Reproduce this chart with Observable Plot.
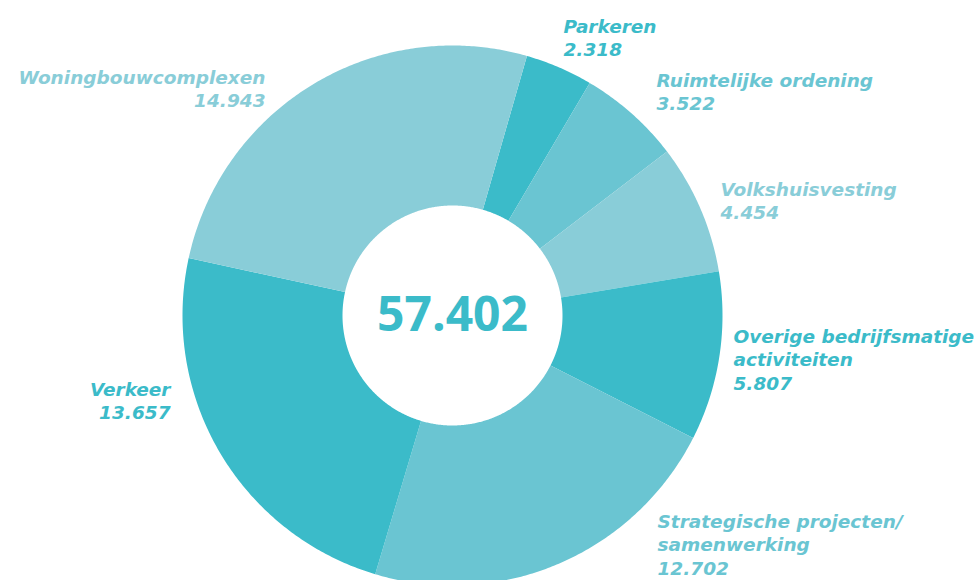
<!DOCTYPE html>
<html>
<head>
<meta charset="utf-8">
<script src="https://cdn.jsdelivr.net/npm/d3@7"></script>
<script src="https://cdn.jsdelivr.net/npm/@observablehq/plot@0.6"></script>
<style>
  html, body { margin: 0; padding: 0; background: #fff; }
  #chart { width: 976px; height: 580px; overflow: hidden; }
</style>
</head>
<body>
<div id="chart"></div>
<script>
// ---- data ----
const categories = ["Parkeren", "Ruimtelijke ordening", "Volkshuisvesting", "Overige bedrijfsmatige activiteiten", "Strategische projecten/ samenwerking", "Verkeer", "Woningbouwcomplexen"];
const values = [2318, 3522, 4454, 5807, 12702, 13657, 14943];
const labelLines = [["Parkeren"], ["Ruimtelijke ordening"], ["Volkshuisvesting"], ["Overige bedrijfsmatige", "activiteiten"], ["Strategische projecten/", "samenwerking"], ["Verkeer"], ["Woningbouwcomplexen"]];
const totalValue = 57402;

// ---- styles / layout ----
const colors = ["#3bbbc9", "#6ac5d2", "#89cdd8", "#3bbbc9", "#6ac5d2", "#3bbbc9", "#89cdd8"];
const W = 976, H = 580, CX = 452, CY = 315, R = 270, RIN = 110 / 270;
const startDeg = 16;
// label anchor (pixel x, baseline of first line) and alignment
const labelLayout = [
  {px: 563, py: 32, anchor: "start"},
  {px: 656, py: 86, anchor: "start"},
  {px: 720, py: 195, anchor: "start"},
  {px: 733, py: 342, anchor: "start"},
  {px: 657, py: 527, anchor: "start"},
  {px: 170, py: 395, anchor: "end"},
  {px: 265, py: 83, anchor: "end"}
];
const FS = 18.5, LH = 23.5, FONT = "DejaVu Sans";

const nl = d3.formatLocale({decimal: ",", thousands: ".", grouping: [3], currency: ["€", ""]});
const fmt = nl.format(",");

const pie = d3.pie().sort(null).value(d => d.value).startAngle(startDeg * Math.PI / 180).endAngle((startDeg + 360) * Math.PI / 180);
const slices = pie(categories.map((c, i) => ({cat: c, value: values[i]})));

// outline of each ring segment (geometry only)
const outline = [];
slices.forEach(s => {
  const n = Math.max(4, Math.ceil((s.endAngle - s.startAngle) / (Math.PI / 360)));
  for (let k = 0; k <= n; k++) {
    const a = s.startAngle + (s.endAngle - s.startAngle) * k / n;
    outline.push({cat: s.data.cat, x: Math.sin(a), y: Math.cos(a)});
  }
  for (let k = n; k >= 0; k--) {
    const a = s.startAngle + (s.endAngle - s.startAngle) * k / n;
    outline.push({cat: s.data.cat, x: RIN * Math.sin(a), y: RIN * Math.cos(a)});
  }
});

// label rows
const labelRows = [];
categories.forEach((c, i) => {
  const L = labelLayout[i];
  const lines = [...labelLines[i], fmt(values[i])];
  lines.forEach((t, j) => {
    labelRows.push({cat: c, text: t, anchor: L.anchor, x: (L.px - CX) / R, y: (CY - (L.py + j * LH)) / R});
  });
});

const colorScale = {domain: categories, range: colors};

const chart = Plot.plot({
  width: W,
  height: H,
  margin: 0,
  x: {domain: [-CX / R, (W - CX) / R], axis: null},
  y: {domain: [-(H - CY) / R, CY / R], axis: null},
  color: colorScale,
  style: {background: "#fff"},
  marks: [
    Plot.line(outline, {x: "x", y: "y", z: "cat", fill: "cat", stroke: "none", curve: "linear-closed"}),
    Plot.text(labelRows.filter(d => d.anchor === "start"), {
      x: "x", y: "y", text: "text", fill: "cat", textAnchor: "start", lineAnchor: "bottom",
      fontSize: FS, fontWeight: 700, fontStyle: "italic", fontFamily: FONT
    }),
    Plot.text(labelRows.filter(d => d.anchor === "end"), {
      x: "x", y: "y", text: "text", fill: "cat", textAnchor: "end", lineAnchor: "bottom",
      fontSize: FS, fontWeight: 700, fontStyle: "italic", fontFamily: FONT
    }),
    Plot.text([totalValue], {
      x: () => 0, y: () => 0, text: d => fmt(d), fill: colors[0], textAnchor: "middle", lineAnchor: "middle",
      fontSize: 48, fontWeight: 700, fontFamily: "Open Sans"
    })
  ]
});
document.getElementById("chart").appendChild(chart);
</script>
</body>
</html>
